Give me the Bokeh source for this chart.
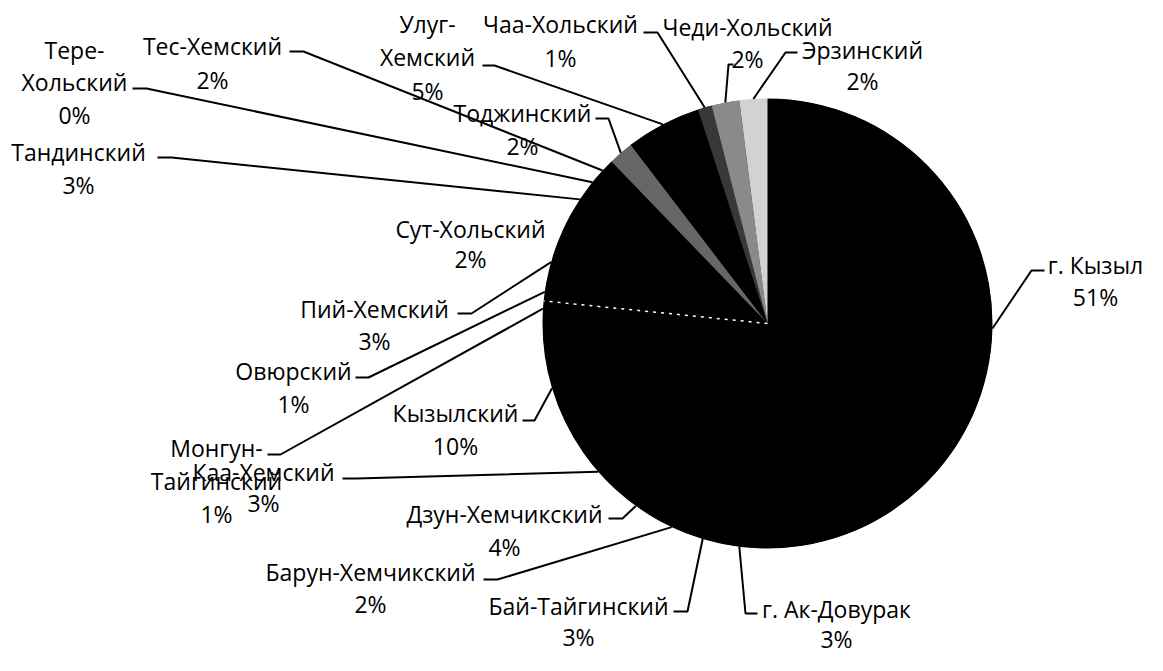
import math
from bokeh.plotting import figure
from bokeh.models import Range1d, ColumnDataSource
from bokeh.embed import file_html
from bokeh.resources import INLINE
from bokeh.core.properties import value

# ---------------- data ----------------
regions = ["г. Кызыл", "г. Ак-Довурак", "Бай-Тайгинский", "Барун-Хемчикский",
           "Дзун-Хемчикский", "Каа-Хемский", "Кызылский", "Монгун-Тайгинский",
           "Овюрский", "Пий-Хемский", "Сут-Хольский", "Тандинский",
           "Тере-Хольский", "Тес-Хемский", "Тоджинский", "Улуг-Хемский",
           "Чаа-Хольский", "Чеди-Хольский", "Эрзинский"]
shares = [50.7, 2.6, 2.7, 2.0, 3.9, 3.3, 10.3, 1.1, 1.3, 3.0, 2.1, 2.6,
          0.4, 1.8, 1.8, 5.4, 1.0, 2.0, 2.0]

# ---------------- styles / layout ----------------
slice_colors = ["#000000"] * 14 + ["#666666", "#000000", "#383838", "#8a8a8a", "#d2d2d2"]
wrapped = {"Тере-Хольский": ["Тере-", "Хольский"],
           "Улуг-Хемский": ["Улуг-", "Хемский"],
           "Монгун-Тайгинский": ["Монгун-", "Тайгинский"]}
# label centre x, first line centre y, line gap (screen px)
label_cx = [1095, 836, 578, 370, 504, 263, 455, 216, 293, 374, 470, 78, 74, 212, 522, 427, 560, 747, 862]
label_y1 = [264, 608, 605, 571, 513, 471, 412, 447, 370, 308, 228, 151, 49, 45, 112, 23, 23, 26, 49]
label_gap = [32, 30, 31, 32, 33, 31, 33, 33, 33, 32, 30, 33, 32.5, 34, 33, 33.5, 34, 32, 31]
# leader hook: start x, end x, y (screen px); None = no leader
hooks = [(1044, 1031, 270), (757, 745, 613), (673, 687, 611), (483, 497, 579),
         (608, 622, 518), (342, 356, 478), (522, 534, 420), (267, 280, 454),
         (355, 368, 377), (457, 471, 313), None, (157, 171, 157),
         (132, 146, 88), (289, 303, 51), (595, 608, 118), (482, 494, 65),
         (643, 657, 32), (733, 728, 64), (797, 785, 52)]

W, H = 1147, 655
CX, CY, R = 767, 323, 225


def fy(sy):
    return H - sy


p = figure(width=W, height=H, x_range=Range1d(0, W), y_range=Range1d(0, H),
           output_backend="svg", toolbar_location=None, x_axis_type=None, y_axis_type=None,
           min_border=0, outline_line_color=None, background_fill_color="white",
           border_fill_color="white")
p.grid.visible = False

total = sum(shares)
starts, ends, mids = [], [], []
acc = 0.0
for v in shares:
    f0 = acc / total
    acc += v
    f1 = acc / total
    starts.append(math.pi / 2 - 2 * math.pi * f1)
    ends.append(math.pi / 2 - 2 * math.pi * f0)
    mids.append(2 * math.pi * (f0 + f1) / 2)

# black base disc avoids seams between the black slices
p.circle(x=[CX], y=[fy(CY)], radius=R - 0.5, fill_color="black", line_color=None)
src = ColumnDataSource(dict(start=starts, end=ends, color=slice_colors))
p.wedge(x=CX, y=fy(CY), radius=R, start_angle="start", end_angle="end",
        direction="anticlock", fill_color="color", line_color=None, source=src)

# dashed white boundary before Овюрский
b_idx = regions.index("Овюрский")
th = 2 * math.pi * sum(shares[:b_idx]) / total
p.line([CX, CX + R * math.sin(th)], [fy(CY), fy(CY) + R * math.cos(th)],
       line_color="white", line_width=1.5, line_dash="3 5")

# leaders
xs, ys = [], []
for i, hk in enumerate(hooks):
    if hk is None:
        continue
    ex = CX + R * math.sin(mids[i])
    ey = fy(CY) + R * math.cos(mids[i])
    xs.append([hk[0], hk[1], ex])
    ys.append([fy(hk[2]), fy(hk[2]), ey])
p.multi_line(xs, ys, line_color="black", line_width=2)

# labels
tx, ty, tt = [], [], []
for i, name in enumerate(regions):
    lines = wrapped.get(name, [name]) + [f"{round(shares[i] / total * 100)}%"]
    for k, ln in enumerate(lines):
        tx.append(label_cx[i])
        ty.append(fy(label_y1[i] + k * label_gap[i]))
        tt.append(ln)
p.text(x=tx, y=ty, text=tt, text_font=value("Open Sans"), text_font_size="23px",
       text_align="center", text_baseline="middle", text_color="black")

open("out.html", "w").write(file_html(p, INLINE))
